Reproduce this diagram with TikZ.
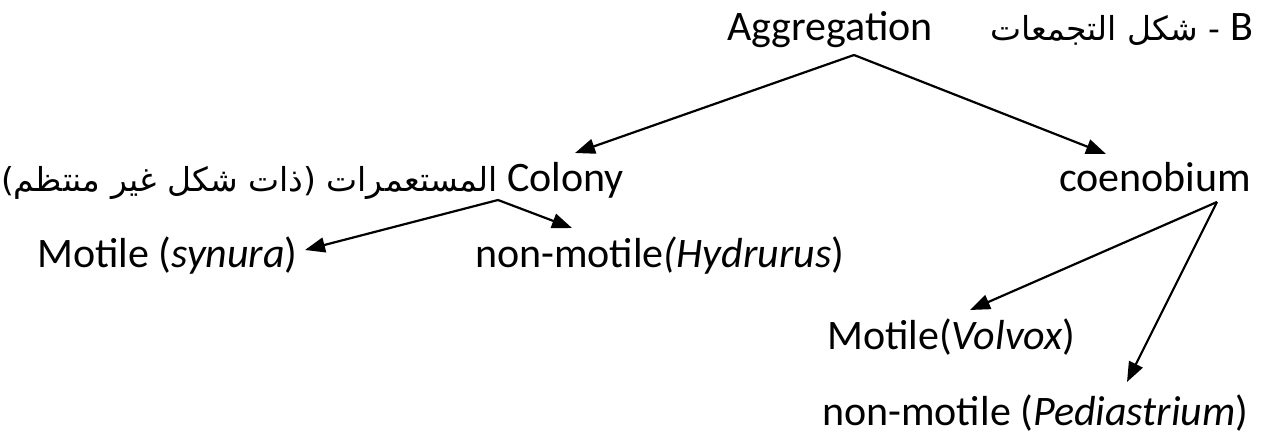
\documentclass[tikz,border=0pt]{standalone}
\usepackage{fontspec}
\setmainfont{Carlito}
\newfontfamily\arabicfont[Script=Arabic]{DejaVu Sans}
\TeXXeTstate=1
\usetikzlibrary{arrows.meta}
\begin{document}
\begin{tikzpicture}[x=1pt,y=-1pt,
  lbl/.style={inner sep=0pt, font=\fontsize{42}{50}\selectfont},
  arlbl/.style={inner sep=0pt, font=\fontsize{33}{40}\selectfont},
  arr/.style={line width=2.2pt, -{Triangle[length=20pt,width=15pt]}}]
\useasboundingbox (0,0) rectangle (1271,435);
% row 1
\node[lbl, anchor=base west] (agg) at (727,41) {Aggregation};
\node[arlbl, anchor=base east] (title) at (1254,41) {\arabicfont\beginR{\rmfamily\fontsize{42}{50}\selectfont B} - شكل التجمعات\endR};
% row 2
\node[arlbl, anchor=base east] (colar) at (498,192) {\arabicfont\beginR المستعمرات (ذات شكل غير منتظم)\endR};
\node[lbl, anchor=base west] (colony) at (507,192) {Colony};
\node[lbl, anchor=base west] (coeno) at (1059,192) {coenobium};
% row 3
\node[lbl, anchor=base west] (synura) at (37,268) {Motile (\textit{synura})};
\node[lbl, anchor=base west] (hydr) at (475,268) {non-motile\textit{(Hydrurus})};
% rows 4-5
\node[lbl, anchor=base west] (volvox) at (827,349) {Motile(\textit{Volvox})};
\node[lbl, anchor=base west] (pedia) at (822,425) {non-motile (\textit{Pediastrium})};
% connector ends
\coordinate (aggapex) at (854,55);
\coordinate (coltip) at (575,153);
\coordinate (coetip) at (1106,154);
\coordinate (colapex) at (498,200);
\coordinate (syntip) at (305,250);
\coordinate (hydtip) at (572,228);
\coordinate (coeapex) at (1217,202);
\coordinate (voltip) at (970,310);
\coordinate (pedtip) at (1127,382);
\draw[arr] (aggapex) -- (coltip);
\draw[arr] (aggapex) -- (coetip);
\draw[arr] (colapex) -- (syntip);
\draw[arr] (colapex) -- (hydtip);
\draw[arr] (coeapex) -- (voltip);
\draw[arr] (coeapex) -- (pedtip);
\end{tikzpicture}
\end{document}
